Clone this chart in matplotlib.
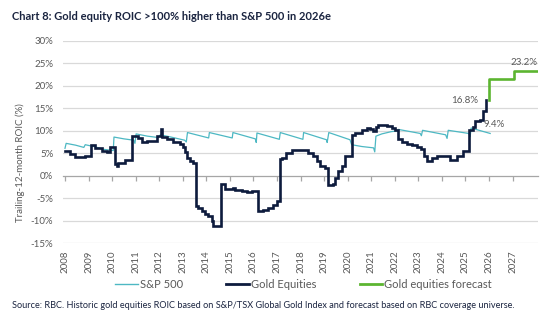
import matplotlib
matplotlib.use("Agg")
import matplotlib.pyplot as plt
from matplotlib.lines import Line2D

plt.rcParams['font.family'] = ['Lato', 'DejaVu Sans']

# Gold equities trailing-12-month ROIC (%), step changes (year, value)
gold_years = [2008.00, 2008.21, 2008.42, 2008.85, 2009.10, 2009.27, 2009.56, 2009.77,
              2009.91, 2010.12, 2010.20, 2010.26, 2010.55, 2010.83, 2011.11, 2011.25,
              2011.47, 2011.89, 2012.08, 2012.13, 2012.32, 2012.60, 2012.88, 2013.02,
              2013.10, 2013.20, 2013.31, 2013.45, 2013.56, 2013.66, 2013.80, 2013.94,
              2014.08, 2014.23, 2014.30, 2014.61, 2014.79, 2015.15, 2015.22, 2015.50,
              2015.71, 2015.93, 2016.21, 2016.42, 2016.63, 2016.85, 2016.99, 2017.13,
              2017.20, 2017.38, 2017.63, 2018.19, 2018.33, 2018.54, 2018.69, 2018.83,
              2019.04, 2019.18, 2019.39, 2019.46, 2019.60, 2019.75, 2019.89, 2020.17,
              2020.30, 2020.60, 2020.81, 2020.95, 2021.09, 2021.19, 2021.30, 2021.66,
              2021.87, 2022.01, 2022.15, 2022.30, 2022.50, 2022.72, 2022.93, 2023.10,
              2023.22, 2023.36, 2023.57, 2023.78, 2024.14, 2024.35, 2024.63, 2024.91,
              2025.17, 2025.30, 2025.41, 2025.62, 2025.76, 2025.88]
gold_roic = [5.4, 4.8, 4.1, 4.4, 6.9, 6.2, 5.6, 5.3,
             6.3, 2.6, 2.1, 2.9, 3.5, 8.9, 8.4, 7.6,
             7.8, 8.9, 10.4, 8.6, 8.2, 7.6, 7.1, 6.5,
             5.2, 4.0, 3.2, 2.8, -6.8, -7.2, -7.9, -8.5,
             -9.0, -10.1, -11.1, -1.9, -2.9, -2.8, -3.2, -3.3,
             -3.6, -3.3, -7.9, -7.7, -7.2, -6.4, -5.6, 3.7,
             3.9, 5.0, 5.8, 5.7, 5.0, 4.4, 3.2, 2.1,
             1.8, -2.0, -1.8, -0.5, 1.0, 2.1, 4.3, 9.1,
             9.5, 10.2, 10.6, 10.4, 9.9, 10.9, 11.3, 11.0,
             10.6, 10.2, 8.2, 7.4, 7.0, 6.8, 6.3, 5.9,
             4.3, 3.2, 4.0, 4.4, 4.3, 3.6, 4.3, 5.4,
             10.2, 10.8, 12.1, 12.3, 14.3, 16.8]

# Gold equities forecast (step changes), final point closes the last step
forecast_years = [2025.98, 2026.00, 2027.08, 2028.08]
forecast_roic = [16.8, 21.6, 23.2, 23.2]

# S&P 500 trailing-12-month ROIC (%)
spx_years = [2008.00, 2008.05, 2008.45, 2008.80, 2008.86, 2009.30, 2009.60, 2010.05,
             2010.08, 2010.50, 2010.92, 2010.97, 2011.02, 2011.50, 2011.95, 2012.05,
             2012.50, 2013.08, 2013.15, 2013.20, 2014.10, 2014.13, 2015.10, 2015.13,
             2016.08, 2016.12, 2016.15, 2017.10, 2017.14, 2018.10, 2018.13, 2019.10,
             2019.13, 2019.20, 2020.10, 2020.17, 2020.60, 2021.10, 2021.15, 2021.20,
             2021.45, 2021.85, 2022.12, 2022.15, 2023.08, 2023.13, 2023.18, 2024.16,
             2024.22, 2024.27, 2025.14, 2025.20, 2025.24, 2026.05]
spx_roic = [6.1, 7.2, 6.8, 6.3, 6.9, 6.4, 5.9, 5.6,
            8.6, 8.2, 7.9, 7.2, 9.3, 8.8, 8.5, 9.1,
            8.6, 7.9, 7.5, 9.6, 8.4, 9.6, 8.4, 9.6,
            8.2, 7.4, 9.5, 8.1, 9.6, 8.1, 9.6, 8.0,
            7.4, 9.6, 8.0, 6.9, 6.5, 6.2, 5.3, 8.8,
            9.3, 9.8, 10.0, 10.3, 9.4, 8.9, 10.1, 9.1,
            8.3, 10.1, 9.4, 8.7, 10.6, 9.4]

year_ticks = list(range(2008, 2028))
y_ticks = list(range(-15, 31, 5))

navy = '#0d1b3d'
teal = '#4db8c3'
green = '#5cb531'
grey_text = '#595959'

fig = plt.figure(figsize=(5.42, 3.23), dpi=100)
ax = fig.add_axes([0.1162, 0.2467, 0.8764, 0.6273])

ax.set_xlim(2007.915, 2028.08)
ax.set_ylim(-15, 30)

for v in y_ticks:
    if v != 0:
        ax.axhline(v, color='#d9d9d9', lw=0.9, zorder=0)

ax.plot(spx_years, spx_roic, color=teal, lw=0.9, zorder=2)
ax.plot(gold_years, gold_roic, color=navy, lw=1.9, drawstyle='steps-post', zorder=3,
        solid_joinstyle='miter')
ax.plot(forecast_years, forecast_roic, color=green, lw=1.9, drawstyle='steps-post', zorder=3)

# value labels
ax.annotate(f"{gold_roic[-1]:.1f}%", (gold_years[-1], gold_roic[-1]), xytext=(-6, 0),
            textcoords='offset points', ha='right', va='center', fontsize=7, color=grey_text)
ax.annotate(f"{spx_roic[-1]:.1f}%", (spx_years[-1], spx_roic[-1]), xytext=(3, 3),
            textcoords='offset points', ha='center', va='bottom', fontsize=7, color=grey_text)
ax.annotate(f"{forecast_roic[-1]:.1f}%", (forecast_years[-1], forecast_roic[-1]), xytext=(0, 3),
            textcoords='offset points', ha='right', va='bottom', fontsize=7, color=grey_text)

# spines: zero line carries the year ticks
for s in ['top', 'right', 'left']:
    ax.spines[s].set_visible(False)
ax.spines['bottom'].set_position(('data', 0))
ax.spines['bottom'].set_color('#a6a6a6')
ax.spines['bottom'].set_linewidth(0.9)
ax.set_xticks(year_ticks)
ax.tick_params(axis='x', direction='out', length=3.5, width=0.9, color='#a6a6a6',
               labelbottom=False)

ax.set_yticks(y_ticks)
ax.set_yticklabels([f"{v}%" for v in y_ticks])
ax.tick_params(axis='y', length=0, pad=7, labelsize=7, labelcolor=grey_text)

# year labels along the bottom of the plot
sec = ax.secondary_xaxis(0.0)
sec.set_xticks(year_ticks)
sec.set_xticklabels([str(y) for y in year_ticks], rotation=90)
sec.tick_params(length=0, pad=5, labelsize=7, labelcolor=grey_text)
sec.spines['bottom'].set_visible(False)

ax.set_ylabel('Trailing-12-month ROIC (%)', fontsize=7, color=grey_text)
ax.yaxis.set_label_coords(-0.08, 0.4)

fig.text(0.022, 0.95, 'Chart 8: Gold equity ROIC >100% higher than S&P 500 in 2026e',
         fontsize=8, fontweight='bold', color='#1a2440', ha='left', va='center')

handles = [Line2D([], [], color=teal, lw=1.0),
           Line2D([], [], color=navy, lw=2.0),
           Line2D([], [], color=green, lw=2.0)]
fig.legend(handles, ['S&P 500', 'Gold Equities', 'Gold equities forecast'],
           loc='center', bbox_to_anchor=(0.56, 0.12), ncol=3, frameon=False,
           fontsize=8, handlelength=2.0, handletextpad=0.2, columnspacing=3.9,
           labelcolor=grey_text)

fig.text(0.022, 0.053, 'Source: RBC. Historic gold equities ROIC based on S&P/TSX Global Gold Index '
         'and forecast based on RBC coverage universe.', fontsize=6.6, color='#1a2440',
         ha='left', va='center')

fig.savefig('out.png', dpi=100)
